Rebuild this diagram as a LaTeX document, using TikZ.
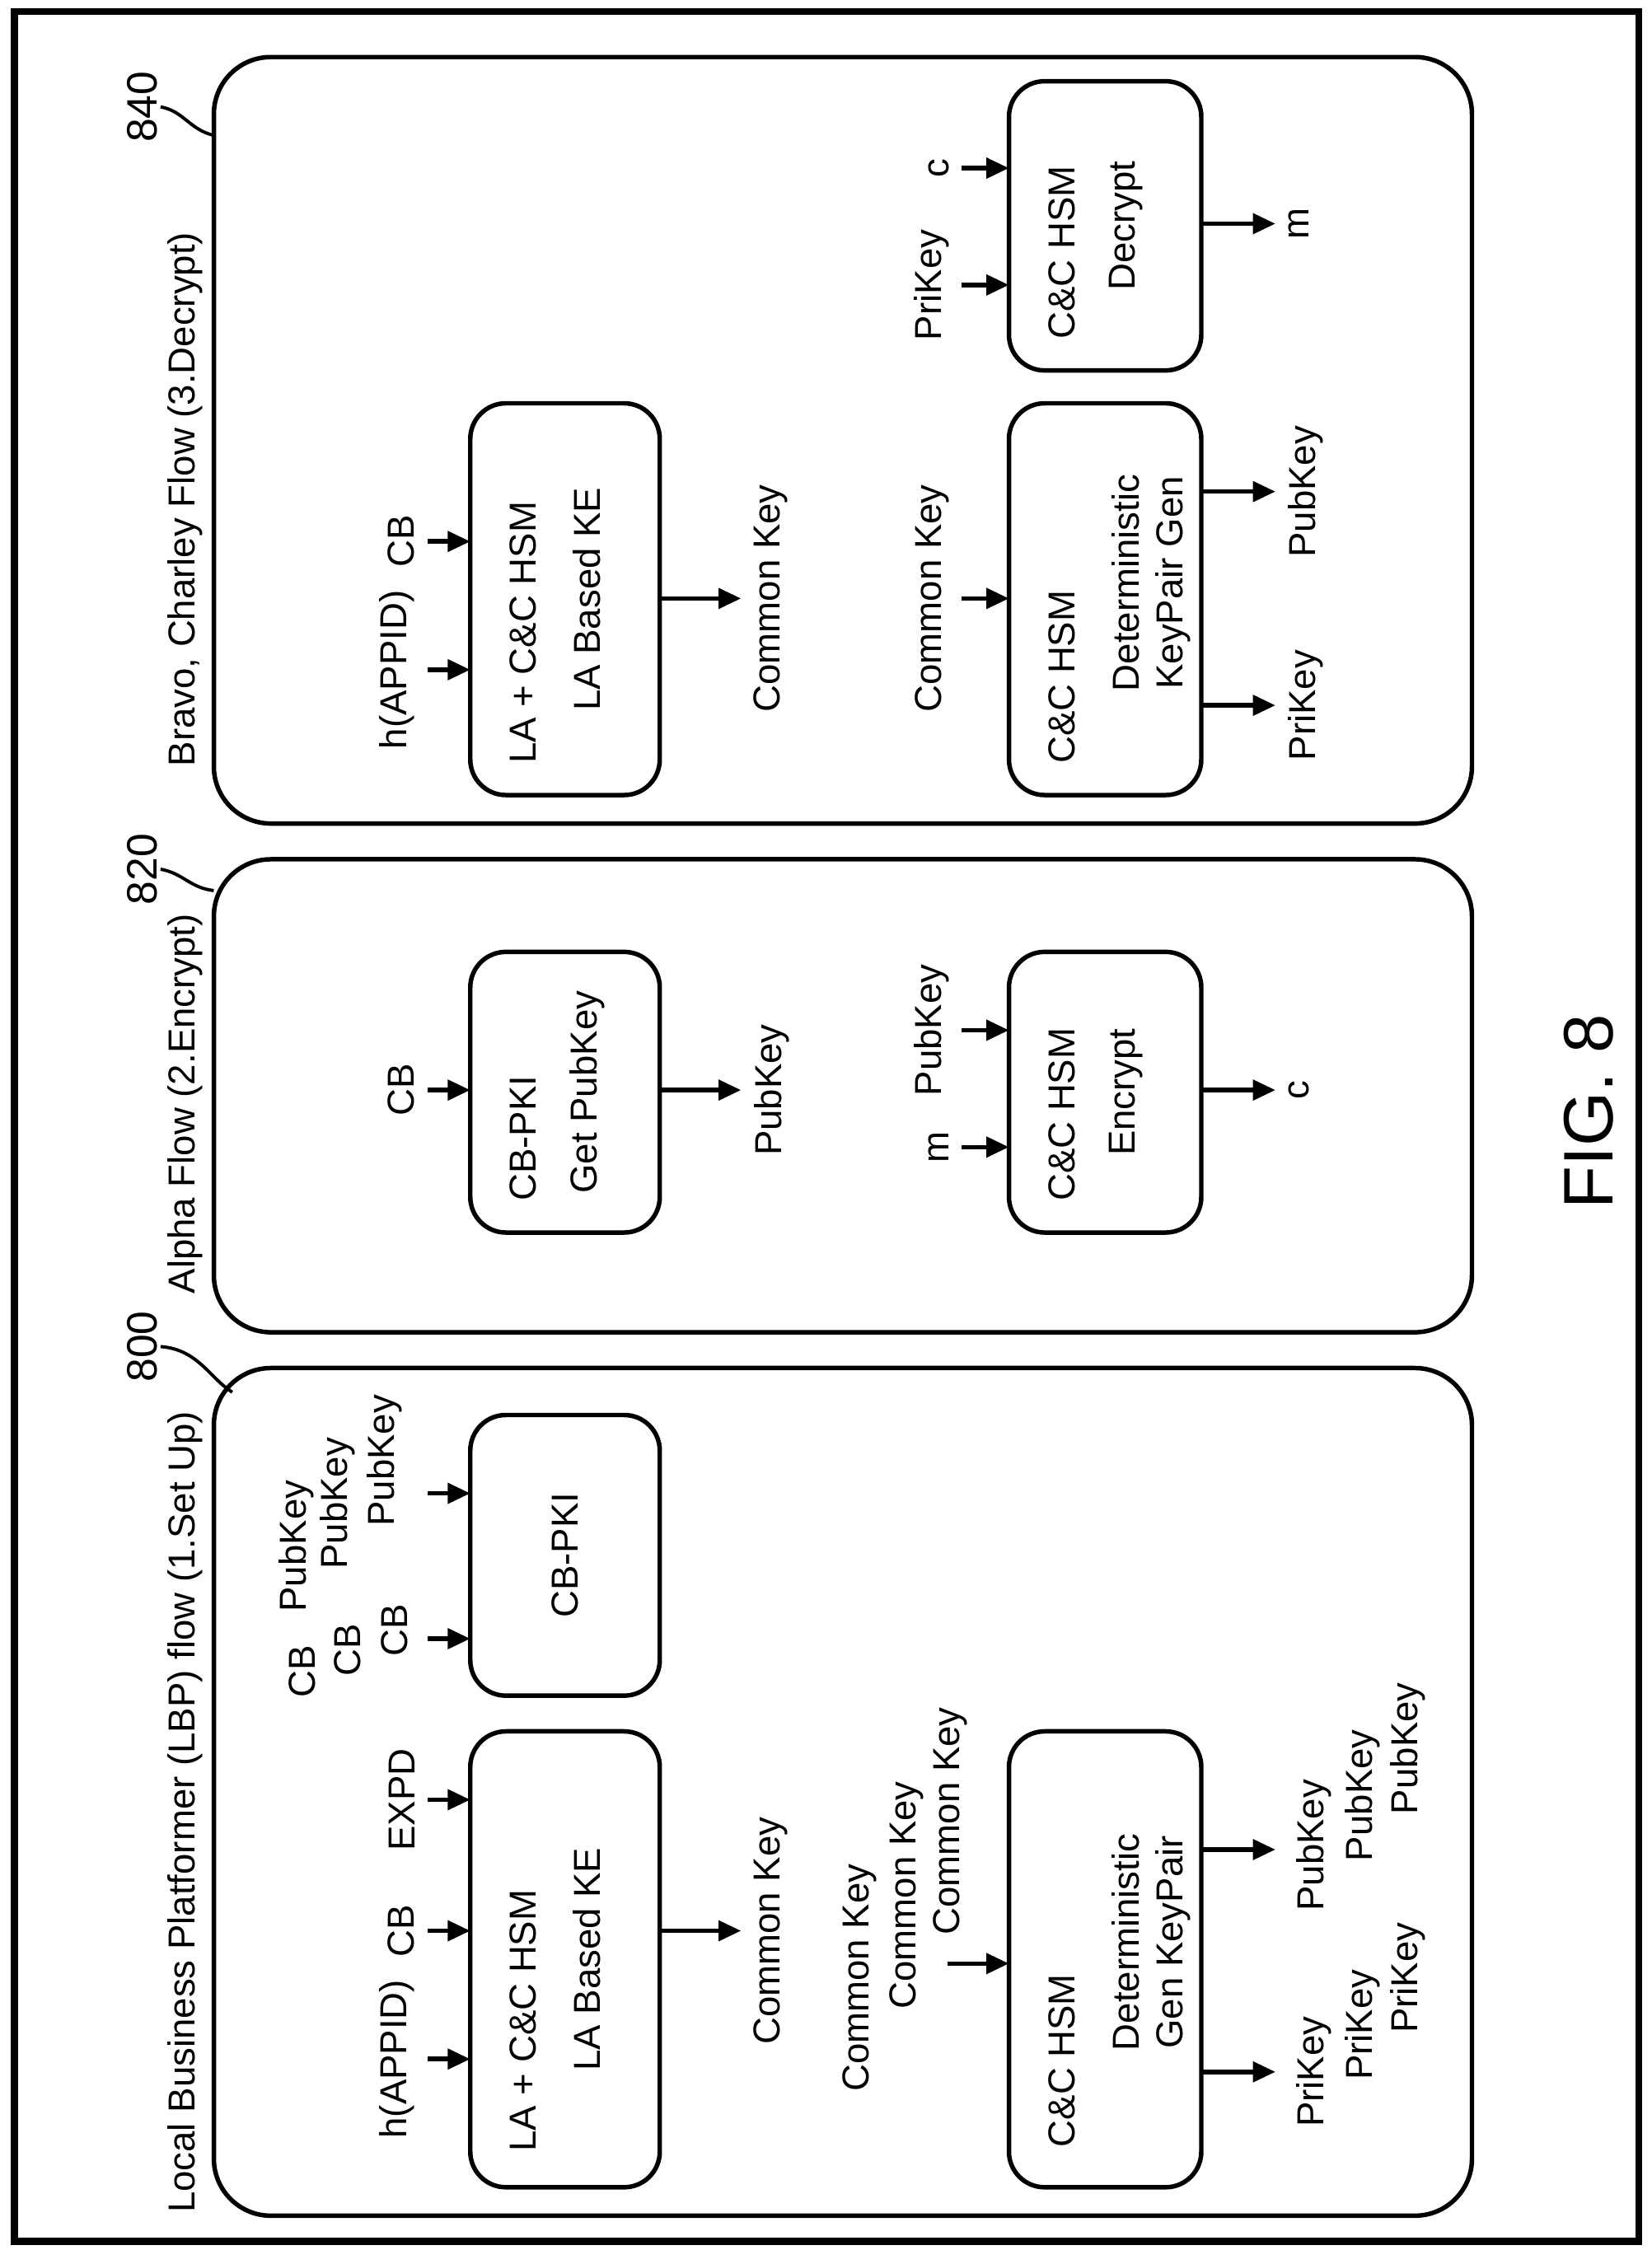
\documentclass[tikz,border=0pt]{standalone}
\usepackage{fontspec}
\setmainfont{Liberation Sans}
\usetikzlibrary{arrows.meta, positioning, calc}
\tikzset{
    box/.style={draw, line width=1.8pt, rounded corners=0.5cm, inner sep=0pt, outer sep=0pt},
    panel/.style={draw, line width=1.8pt, rounded corners=0.8cm, inner sep=0pt, outer sep=0pt},
    arr/.style={line width=1.8pt, -{Triangle[length=9pt,width=8pt]}},
    txt/.style={font=\fontsize{15}{18}\selectfont, inner sep=1pt},
    num/.style={font=\fontsize{17}{20}\selectfont, inner sep=1pt},
}
\begin{document}
\begin{tikzpicture}[x=0.02cm, y=0.02cm]
  \begin{scope}[rotate=90, transform shape]
    \useasboundingbox (0,0) rectangle (1579,1159);
    \draw[line width=2.8pt] (6,9) rectangle (1571,1149);

    % panels
    \node[panel, minimum width=11.9cm, minimum height=17.66cm] (p800) at (321.5,567.5) {};
    \node[panel, minimum width=6.64cm, minimum height=17.66cm] (p820) at (810,567.5) {};
    \node[panel, minimum width=10.76cm, minimum height=17.66cm] (p840) at (1270,567.5) {};

    \node[txt, anchor=base west] (t800) at (24,1022) {Local Business Platformer (LBP) flow (1.Set Up)};
    \node[txt, anchor=base west] (t820) at (669,1022) {Alpha Flow (2.Encrypt)};
    \node[txt, anchor=base west] (t840) at (1039,1022) {Bravo, Charley Flow (3.Decrypt)};

    \node[num] (n800) at (634,1059) {800};
    \node[num] (n820) at (969,1059) {820};
    \node[num] (n840) at (1504,1059) {840};
    \coordinate (c800) at (602,996);
    \coordinate (c820) at (954,1009);
    \coordinate (c840) at (1484,1009);
    \draw[line width=1.3pt] (n800.south) .. controls (632,1020) and (612,1012) .. (c800);
    \draw[line width=1.3pt] (n820.south) .. controls (966,1030) and (956,1026) .. (c820);
    \draw[line width=1.3pt] (n840.south) .. controls (1501,1030) and (1488,1026) .. (c840);

    % 1. set up
    \node[box, minimum width=6.4cm, minimum height=2.66cm] (f) at (204,762.5) {};
    \node[txt, anchor=west] at (67,792) {LA + C\&C HSM};
    \node[txt] at (204,747) {LA Based KE};
    \foreach \X/\name/\t in {134/fa/h(APPID), 224/fb/CB, 316/fc/EXPD} {
      \node[txt, anchor=south] (\name) at (\X,866) {\t};
      \coordinate (\name i) at (\X,859);
      \draw[arr] (\name i) -- (f.north -| \name i);
    }
    \coordinate (fo) at (224,639);
    \draw[arr] (f.south -| fo) -- (fo);
    \node[txt, anchor=north] (fk) at (224,632) {Common Key};

    \node[box, minimum width=3.94cm, minimum height=2.66cm] (g) at (487.5,762.5) {};
    \node[txt] at (487.5,762.5) {CB-PKI};
    \node[txt] (gc1) at (406,947) {CB};
    \node[txt] (gc2) at (421,915) {CB};
    \node[txt] (gc3) at (435,882) {CB};
    \node[txt] (gp1) at (494,951) {PubKey};
    \node[txt] (gp2) at (524,922) {PubKey};
    \node[txt] (gp3) at (554,889) {PubKey};
    \coordinate (gi1) at (429,859);
    \coordinate (gi2) at (531,859);
    \draw[arr] (gi1) -- (g.north -| gi1);
    \draw[arr] (gi2) -- (g.north -| gi2);

    \node[box, minimum width=6.4cm, minimum height=2.7cm] (h) at (204,383.5) {};
    \node[txt, anchor=west] at (70,414) {C\&C HSM};
    \node[txt] at (216,369) {Deterministic};
    \node[txt] at (216,336) {Gen KeyPair};
    \node[txt] (hk1) at (191,556) {Common Key};
    \node[txt] (hk2) at (249,523) {Common Key};
    \node[txt] (hk3) at (301,492) {Common Key};
    \coordinate (hi) at (201,494);
    \draw[arr] (hi) -- (h.north -| hi);
    \coordinate (ho1) at (125,264);
    \coordinate (ho2) at (281,264);
    \draw[arr] (h.south -| ho1) -- (ho1);
    \draw[arr] (h.south -| ho2) -- (ho2);
    \node[txt] (hr1) at (125,237) {PriKey};
    \node[txt] (hr2) at (158,203) {PriKey};
    \node[txt] (hr3) at (191,171) {PriKey};
    \node[txt] (hu1) at (284,237) {PubKey};
    \node[txt] (hu2) at (319,203) {PubKey};
    \node[txt] (hu3) at (352,171) {PubKey};

    % 2. encrypt
    \node[box, minimum width=3.94cm, minimum height=2.66cm] (d) at (812.5,762.5) {};
    \node[txt, anchor=west] at (734,792) {CB-PKI};
    \node[txt] at (812.5,747) {Get PubKey};
    \node[txt, anchor=south] (dl) at (814,866) {CB};
    \coordinate (di) at (814,859);
    \draw[arr] (di) -- (d.north -| di);
    \coordinate (do) at (814,639);
    \draw[arr] (d.south -| do) -- (do);
    \node[txt, anchor=north] (dk) at (814,632) {PubKey};

    \node[box, minimum width=3.94cm, minimum height=2.7cm] (e) at (812.5,383.5) {};
    \node[txt, anchor=west] at (734,414) {C\&C HSM};
    \node[txt] at (812.5,369) {Encrypt};
    \foreach \X/\name/\t in {774/ea/m, 856/eb/PubKey} {
      \node[txt, anchor=south] (\name) at (\X,491) {\t};
      \coordinate (\name i) at (\X,484);
      \draw[arr] (\name i) -- (e.north -| \name i);
    }
    \coordinate (eo) at (814,264);
    \draw[arr] (e.south -| eo) -- (eo);
    \node[txt, anchor=north] (ek) at (814,257) {c};

    % 3. decrypt
    \node[box, minimum width=5.5cm, minimum height=2.66cm] (a) at (1158.5,762.5) {};
    \node[txt, anchor=west] at (1041,792) {LA + C\&C HSM};
    \node[txt] at (1158.5,747) {LA Based KE};
    \foreach \X/\name/\t in {1109/aa/h(APPID), 1199/ab/CB} {
      \node[txt, anchor=south] (\name) at (\X,866) {\t};
      \coordinate (\name i) at (\X,859);
      \draw[arr] (\name i) -- (a.north -| \name i);
    }
    \coordinate (ao) at (1159,639);
    \draw[arr] (a.south -| ao) -- (ao);
    \node[txt, anchor=north] (ak) at (1159,632) {Common Key};

    \node[box, minimum width=5.5cm, minimum height=2.7cm] (b) at (1158.5,383.5) {};
    \node[txt, anchor=west] at (1041,414) {C\&C HSM};
    \node[txt] at (1170,369) {Deterministic};
    \node[txt] at (1170,336) {KeyPair Gen};
    \node[txt, anchor=south] (bl) at (1159,491) {Common Key};
    \coordinate (bi) at (1159,484);
    \draw[arr] (bi) -- (b.north -| bi);
    \foreach \X/\name/\t in {1084/ba/PriKey, 1234/bb/PubKey} {
      \coordinate (\name o) at (\X,264);
      \draw[arr] (b.south -| \name o) -- (\name o);
      \node[txt, anchor=north] (\name) at (\X,257) {\t};
    }

    \node[box, minimum width=4.06cm, minimum height=2.7cm] (cc) at (1420.5,383.5) {};
    \node[txt, anchor=west] at (1339,414) {C\&C HSM};
    \node[txt] at (1420.5,369) {Decrypt};
    \foreach \X/\name/\t in {1379/ca/PriKey, 1461/cb/c} {
      \node[txt, anchor=south] (\name) at (\X,491) {\t};
      \coordinate (\name i) at (\X,484);
      \draw[arr] (\name i) -- (cc.north -| \name i);
    }
    \coordinate (co) at (1422,264);
    \draw[arr] (cc.south -| co) -- (co);
    \node[txt, anchor=north] (ck) at (1422,257) {m};

    \node[font=\fontsize{28}{32}\selectfont] (fig) at (799,44) {FIG. 8};
  \end{scope}
\end{tikzpicture}
\end{document}
